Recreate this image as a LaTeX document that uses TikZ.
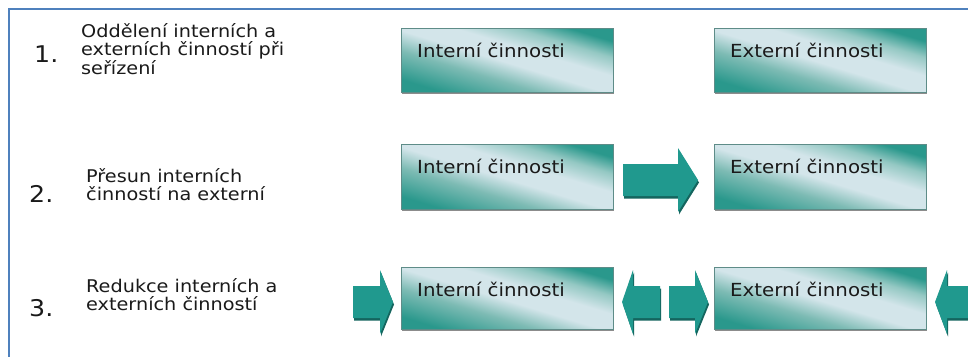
\documentclass[tikz,border=0pt]{standalone}
\usepackage{fontspec}
\setmainfont[FakeStretch=1.1]{DejaVu Sans}
\usetikzlibrary{calc}
\definecolor{frameblue}{HTML}{4F81BD}
\definecolor{boxteal}{HTML}{2A988C}
\definecolor{boxmid}{HTML}{7DBBB4}
\definecolor{boxlight}{HTML}{D3E5EA}
\definecolor{boxmidb}{HTML}{94C8C3}
\definecolor{boxedge}{HTML}{5E8C88}
\definecolor{arrteal}{HTML}{20998E}
\definecolor{arrdark}{HTML}{14655E}
\definecolor{txt}{HTML}{1A1A1A}
\pgfdeclareverticalshading{boxshade}{100bp}{color(0bp)=(boxteal); color(25bp)=(boxteal); color(39bp)=(boxmid); color(49bp)=(boxlight); color(58bp)=(boxlight); color(67bp)=(boxmidb); color(75bp)=(boxteal); color(100bp)=(boxteal)}
\newcommand\blockarr[4]{%
  \fill[arrdark] (#1+1,#4-16+2.5) -- (#2+1,#4-16+2.5) -- (#2+1,#4-32+2.5) -- (#3+1,#4+2.5) -- (#2+1,#4+32+2.5) -- (#2+1,#4+16+2.5) -- (#1+1,#4+16+2.5) -- cycle;
  \fill[arrteal] (#1,#4-16) -- (#2,#4-16) -- (#2,#4-32) -- (#3,#4) -- (#2,#4+32) -- (#2,#4+16) -- (#1,#4+16) -- cycle;}
\tikzset{
  stepbox/.style={draw=boxedge, line width=0.9, shading=boxshade, shading angle=-16.8,
    minimum width=212, anchor=north west, inner sep=0,
    preaction={fill=black!45, transform canvas={shift={(1pt,-2pt)}}}},
  boxlabel/.style={anchor=base west, inner sep=0, text=txt, font=\fontsize{18}{20}\selectfont},
  steptext/.style={anchor=base west, inner sep=0, text=txt, font=\fontsize{17.5}{18.5}\selectfont},
  stepnum/.style={anchor=base west, inner sep=0, text=txt, font=\fontsize{23}{25}\selectfont}
}
\begin{document}
\begin{tikzpicture}[x=1pt, y=-1pt]
\useasboundingbox (0,0) rectangle (968,356);
\clip (0,0) rectangle (968,356);
\fill[white] (0,0) rectangle (968,356);
\draw[frameblue, line width=2] (8.5,360) -- (8.5,8.5) -- (970,8.5);

% row 1
\node[stepnum] (n1) at (34,62) {1.};
\node[steptext] (t1) at (81,37) {\vtop{\hbox{Oddělení interních a}\hbox{externích činností při}\hbox{seřízení}}};
\node[stepbox, minimum height=64] (a1) at (401,28) {};
\node[stepbox, minimum height=64] (b1) at (714,28) {};
\node[boxlabel] (la1) at ($(a1.north west)+(16,29)$) {Interní činnosti};
\node[boxlabel] (lb1) at ($(b1.north west)+(16,29)$) {Externí činnosti};

% row 2
\node[stepnum] (n2) at (29,202) {2.};
\node[steptext] (t2) at (86,182) {\vtop{\hbox{Přesun interních}\hbox{činností na externí}}};
\node[stepbox, minimum height=65] (a2) at (401,144) {};
\node[stepbox, minimum height=65] (b2) at (714,144) {};
\node[boxlabel] (la2) at ($(a2.north west)+(16,29)$) {Interní činnosti};
\node[boxlabel] (lb2) at ($(b2.north west)+(16,29)$) {Externí činnosti};
\blockarr{623}{678}{698}{180}

% row 3
\node[stepnum] (n3) at (29,316) {3.};
\node[steptext] (t3) at (86,292) {\vtop{\hbox{Redukce interních a}\hbox{externích činností}}};
\node[stepbox, minimum height=62] (a3) at (401,267) {};
\node[stepbox, minimum height=62] (b3) at (714,267) {};
\node[boxlabel] (la3) at ($(a3.north west)+(16,29)$) {Interní činnosti};
\node[boxlabel] (lb3) at ($(b3.north west)+(16,29)$) {Externí činnosti};
\blockarr{353}{380}{393}{302}
\blockarr{660}{633}{622}{302}
\blockarr{669}{695}{708}{302}
\blockarr{990}{947}{935}{302}
\end{tikzpicture}
\end{document}
